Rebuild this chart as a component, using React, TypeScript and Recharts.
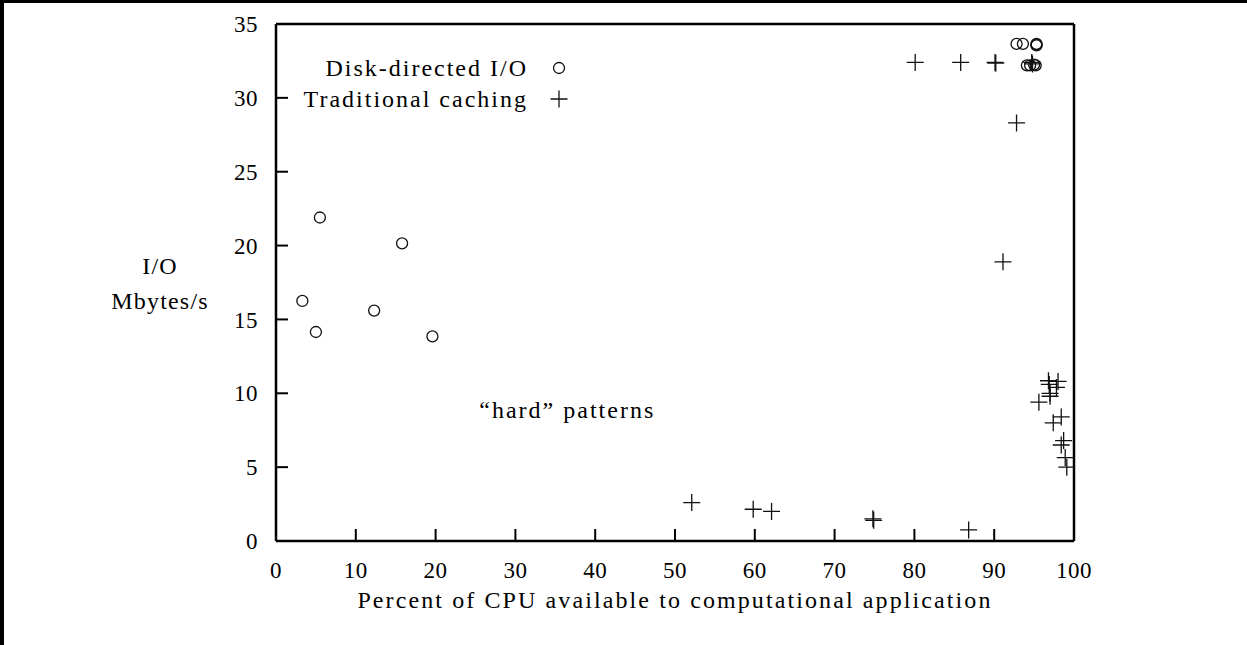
import React from 'react';
import { ScatterChart, Scatter, XAxis, YAxis, Legend, ReferenceDot, Label } from 'recharts';

const FONT = '"Liberation Serif", "Times New Roman", serif';

const xTicks = [0, 10, 20, 30, 40, 50, 60, 70, 80, 90, 100];
const yTicks = [0, 5, 10, 15, 20, 25, 30, 35];

const diskX = [3.3, 5.0, 5.5, 12.3, 15.8, 19.6, 92.8, 93.6, 95.3, 95.3, 95.3, 94.1, 94.5, 95.0, 95.2];
const diskY = [16.25, 14.15, 21.9, 15.6, 20.15, 13.85, 33.65, 33.65, 33.65, 33.6, 33.55, 32.2, 32.2, 32.25, 32.2];

const tradX = [52.1, 59.8, 62.1, 74.8, 74.9, 86.8, 80.1, 85.8, 90.1, 90.2, 94.7, 94.8, 92.8, 91.1, 96.8, 98.0, 96.9, 97.8, 97.0, 97.0, 95.6, 98.4, 97.4, 98.7, 98.4, 98.9, 99.1];
const tradY = [2.6, 2.15, 2.0, 1.5, 1.4, 0.75, 32.4, 32.4, 32.4, 32.35, 32.4, 32.3, 28.3, 18.9, 10.85, 10.8, 10.6, 10.4, 10.0, 9.8, 9.4, 8.4, 8.0, 6.8, 6.5, 5.65, 5.0];

const diskData = diskX.map((x, i) => ({ x, y: diskY[i] }));
const tradData = tradX.map((x, i) => ({ x, y: tradY[i] }));

const CrossShape = (props: any) => {
  const { cx, cy } = props;
  if (cx == null || cy == null) return null;
  return (
    <path
      d={`M${cx - 8.5},${cy}H${cx + 8.5}M${cx},${cy - 8.5}V${cy + 8.5}`}
      stroke="#111"
      strokeWidth={1.3}
      fill="none"
    />
  );
};

const CircleShape = (props: any) => {
  const { cx, cy } = props;
  if (cx == null || cy == null) return null;
  return <circle cx={cx} cy={cy} r={5.5} fill="none" stroke="#111" strokeWidth={1.3} />;
};

const renderLegend = () => (
  <div style={{ position: 'relative', width: 1247, height: 0, fontFamily: FONT }}>
    {[
      { label: 'Disk-directed I/O', top: 53, kind: 'circle' },
      { label: 'Traditional caching', top: 84, kind: 'cross' },
    ].map((r) => (
      <div key={r.label} style={{ position: 'absolute', left: 0, top: r.top, width: 580, height: 30 }}>
        <span
          style={{
            position: 'absolute',
            right: 52,
            top: 0,
            fontSize: 24,
            letterSpacing: 2,
            lineHeight: '30px',
            whiteSpace: 'nowrap',
            color: '#000',
          }}
        >
          {r.label}
        </span>
        <svg style={{ position: 'absolute', left: 549, top: 5 }} width={20} height={20}>
          {r.kind === 'circle' ? (
            <circle cx={10} cy={10} r={5.5} fill="none" stroke="#111" strokeWidth={1.3} />
          ) : (
            <path d="M1.5,10H18.5M10,1.5V18.5" stroke="#111" strokeWidth={1.3} fill="none" />
          )}
        </svg>
      </div>
    ))}
  </div>
);

const XLabel = (props: any) => {
  const vb = props.viewBox || {};
  return (
    <text
      x={vb.x + vb.width / 2}
      y={vb.y + 67}
      textAnchor="middle"
      fontFamily={FONT}
      fontSize={24}
      letterSpacing={2.1}
      fill="#000"
    >
      Percent of CPU available to computational application
    </text>
  );
};

const YLabel = (props: any) => {
  const vb = props.viewBox || {};
  const cy = vb.y + vb.height / 2;
  return (
    <text textAnchor="middle" fontFamily={FONT} fontSize={24} letterSpacing={1.2} fill="#000">
      <tspan x={vb.x - 115} y={cy - 9}>I/O</tspan>
      <tspan x={vb.x - 115} y={cy + 26}>Mbytes/s</tspan>
    </text>
  );
};

const tickStyle = { fontFamily: FONT, fontSize: 23, fill: '#000', letterSpacing: 0.5 };

export default function App() {
  return (
    <div style={{ position: 'absolute', left: 0, top: 0, width: 1247, height: 645, background: '#fff', overflow: 'hidden' }}>
      <ScatterChart
        width={1247}
        height={645}
        margin={{ top: 23, right: 172, bottom: 103, left: 275 }}
      >
        <XAxis
          xAxisId="b"
          type="number"
          dataKey="x"
          domain={[0, 100]}
          ticks={xTicks}
          interval={0}
          height={1}
          orientation="bottom"
          axisLine={{ stroke: '#000', strokeWidth: 2.5 }}
          tickLine={{ stroke: '#000', strokeWidth: 2 }}
          tickSize={-12}
          tickMargin={33}
          tick={tickStyle}
          allowDataOverflow
        >
          <Label content={XLabel} />
        </XAxis>
        <XAxis
          xAxisId="t"
          type="number"
          dataKey="x"
          domain={[0, 100]}
          ticks={xTicks}
          interval={0}
          height={1}
          orientation="top"
          axisLine={{ stroke: '#000', strokeWidth: 2.5 }}
          tickLine={{ stroke: '#000', strokeWidth: 2 }}
          tickSize={-12}
          tick={false}
          allowDataOverflow
        />
        <YAxis
          yAxisId="l"
          type="number"
          dataKey="y"
          domain={[0, 35]}
          ticks={yTicks}
          interval={0}
          width={1}
          orientation="left"
          axisLine={{ stroke: '#000', strokeWidth: 2.5 }}
          tickLine={{ stroke: '#000', strokeWidth: 2 }}
          tickSize={-12}
          tickMargin={30}
          tick={tickStyle}
          allowDataOverflow
        >
          <Label content={YLabel} />
        </YAxis>
        <YAxis
          yAxisId="r"
          type="number"
          dataKey="y"
          domain={[0, 35]}
          ticks={yTicks}
          interval={0}
          width={1}
          orientation="right"
          axisLine={{ stroke: '#000', strokeWidth: 2.5 }}
          tickLine={{ stroke: '#000', strokeWidth: 2 }}
          tickSize={-12}
          tick={false}
          allowDataOverflow
        />
        <Scatter name="Disk-directed I/O" data={diskData} xAxisId="b" yAxisId="l" shape={CircleShape} isAnimationActive={false} />
        <Scatter name="Traditional caching" data={tradData} xAxisId="b" yAxisId="l" shape={CrossShape} isAnimationActive={false} />
        <Scatter name="mirror" data={tradData} xAxisId="t" yAxisId="r" shape={() => null} isAnimationActive={false} legendType="none" />
        <ReferenceDot
          x={36.5}
          y={8.87}
          xAxisId="b"
          yAxisId="l"
          r={0}
          stroke="none"
          fill="none"
          label={{ value: '\u201chard\u201d patterns', position: 'center', fontFamily: FONT, fontSize: 24, letterSpacing: 2, fill: '#000' }}
        />
        <Legend content={renderLegend} wrapperStyle={{ left: 0, top: 0, width: 1247, height: 0 }} />
      </ScatterChart>
      <div style={{ position: 'absolute', left: 0, top: 0, width: 1247, height: 3, background: '#000' }} />
      <div style={{ position: 'absolute', left: 0, top: 0, width: 4, height: 645, background: '#000' }} />
    </div>
  );
}
